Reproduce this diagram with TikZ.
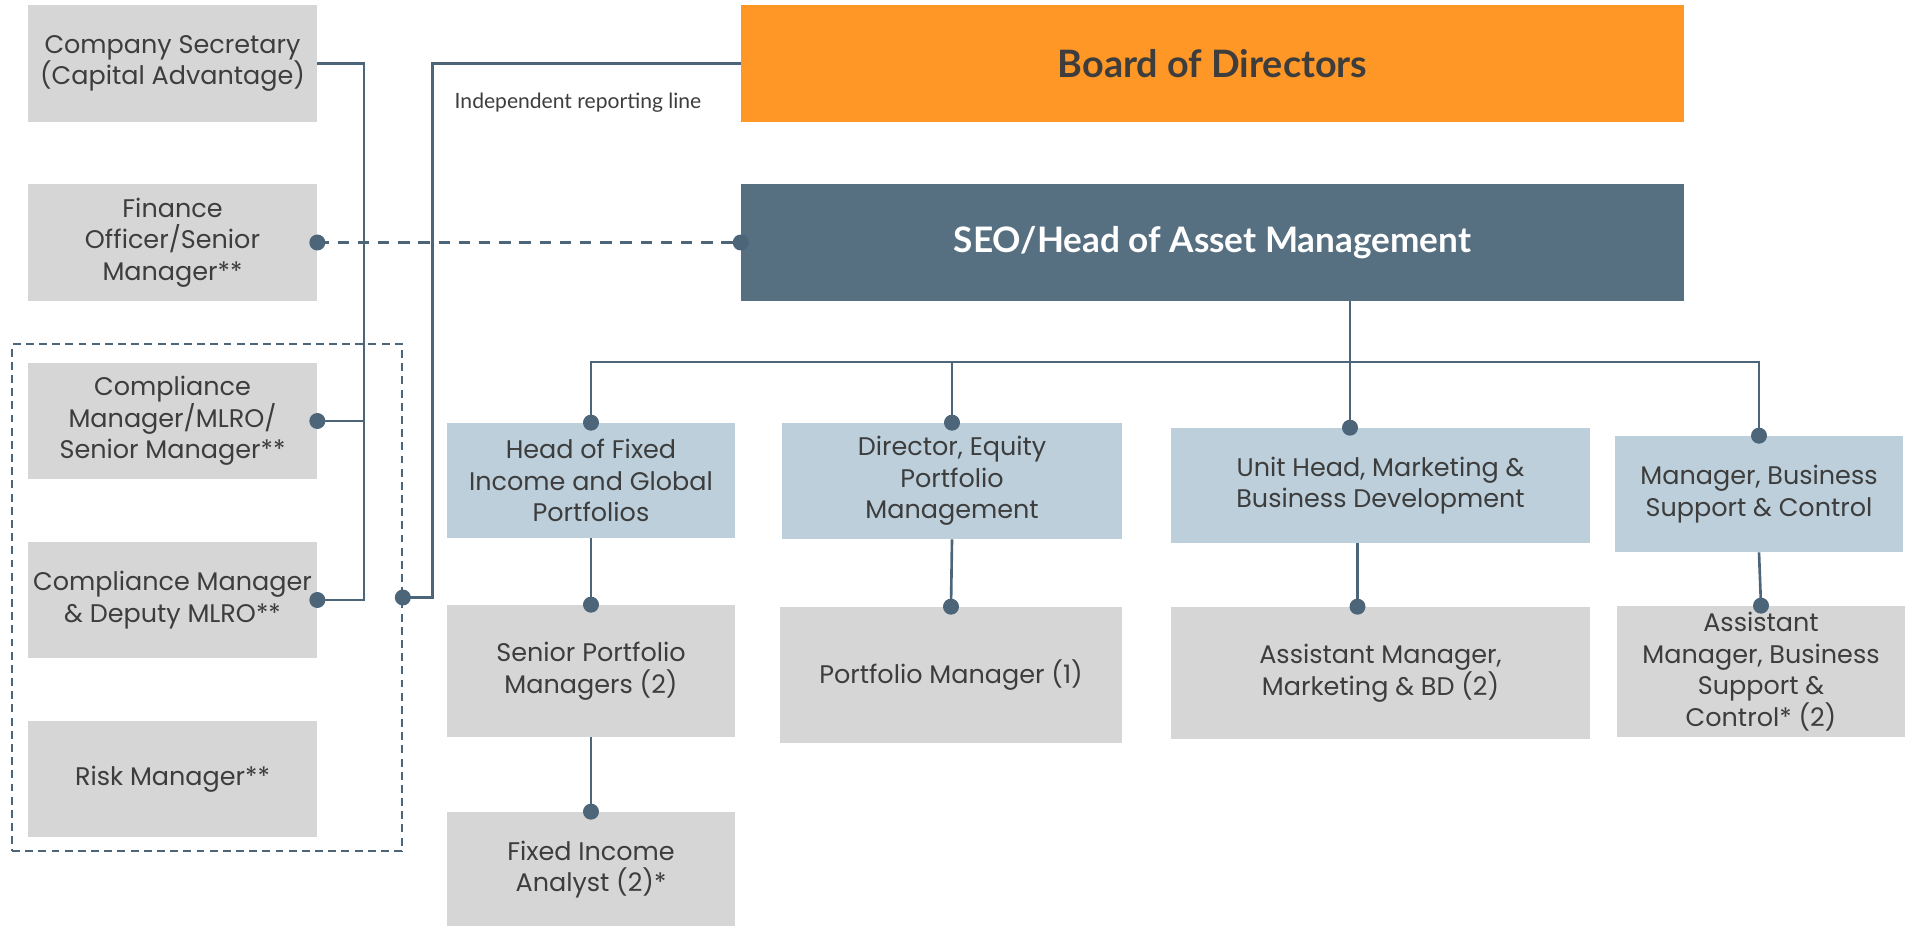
\documentclass[tikz,border=0pt]{standalone}
\usepackage{fontspec}
\setmainfont{Lato}
\newfontfamily\boxfont{Poppins}
\usepackage{tikz}

\definecolor{boardorange}{HTML}{FF9727}
\definecolor{seoslate}{HTML}{567082}
\definecolor{linkblue}{HTML}{4D6579}
\definecolor{headblue}{HTML}{BCCFDB}
\definecolor{staffgrey}{HTML}{D6D6D6}
\definecolor{textgrey}{HTML}{3D3D3D}

\tikzset{
  staff/.style={rectangle,fill=staffgrey,text=textgrey,align=center,inner sep=0pt,
    font=\boxfont\fontsize{14.5}{18}\selectfont},
  head/.style={staff,fill=headblue},
  topbox/.style={rectangle,align=center,inner sep=0pt,minimum width=18.86cm,minimum height=2.34cm,
    font=\fontsize{20}{24}\selectfont\bfseries},
  link/.style={draw=linkblue,line width=1.5pt},
  dashlink/.style={draw=linkblue,line width=1.5pt,dash pattern=on 6.5pt off 5pt},
  ccframe/.style={draw=linkblue,line width=1pt,dash pattern=on 4.5pt off 3pt},
}

\begin{document}
\begin{tikzpicture}[x=0.02cm,y=-0.02cm]
\useasboundingbox (0,0) rectangle (1911,926);

%top
\node [topbox,fill=boardorange,text=textgrey,font=\fontsize{21.5}{24}\selectfont\bfseries] (board) at(1212.5,63.5){Board of Directors};
\node [topbox,fill=seoslate,text=white] (seo) at(1212.5,242.5){SEO/Head of Asset Management};

%left column
\node [staff,minimum width=5.78cm,minimum height=2.34cm] (cosec) at(172.5,63.5){Company Secretary\\(Capital Advantage)};
\node [staff,minimum width=5.78cm,minimum height=2.34cm] (fin) at(172.5,242.5){Finance\\Officer/Senior\\Manager**};
\node [staff,minimum width=5.78cm,minimum height=2.32cm] (cmlro) at(172.5,421){Compliance\\Manager/MLRO/\\Senior Manager**};
\node [staff,minimum width=5.78cm,minimum height=2.32cm] (cdep) at(172.5,600){Compliance Manager\\\& Deputy MLRO**};
\node [staff,minimum width=5.78cm,minimum height=2.32cm] (risk) at(172.5,779){Risk Manager**};
\node [ccframe,minimum width=7.8cm,minimum height=10.14cm] (ccbox) at(207,597.5){};

\node [text=textgrey,font=\fontsize{12}{14}\selectfont] (indep) at(578,103){Independent reporting line};

%heads
\node [head,minimum width=5.76cm,minimum height=2.3cm] (hfi) at(591,480.5){Head of Fixed\\Income and Global\\Portfolios};
\node [head,minimum width=6.8cm,minimum height=2.32cm] (deq) at(952,481){Director, Equity\\Portfolio\\Management};
\node [head,minimum width=8.38cm,minimum height=2.3cm] (unit) at(1380.5,485.5){Unit Head, Marketing \&\\Business Development};
\node [head,minimum width=5.76cm,minimum height=2.32cm] (mbs) at(1759,494){Manager, Business\\Support \& Control};

%staff
\node [staff,minimum width=5.76cm,minimum height=2.64cm] (spm) at(591,671){Senior Portfolio\\Managers (2)};
\node [staff,minimum width=6.84cm,minimum height=2.72cm] (pm) at(951,675){Portfolio Manager (1)};
\node [staff,minimum width=8.38cm,minimum height=2.64cm] (amm) at(1380.5,673){Assistant Manager,\\Marketing \& BD (2)};
\node [staff,minimum width=5.76cm,minimum height=2.62cm] (abs) at(1761,671.5){Assistant\\Manager, Business\\Support \&\\Control* (2)};
\node [staff,minimum width=5.76cm,minimum height=2.3cm] (fia) at(591,869.5){Fixed Income\\Analyst (2)*};

\coordinate (hub) at(1350,362);

%reporting lines
\draw[link](cosec.east) -- ++(46.5,0) |- (cdep.east);
\draw[link](cmlro.east) -- ++(46.5,0);
\draw[link](board.west) -- ++(-308,0) |- (ccbox.east);
\draw[dashlink](fin.east) -- (seo.west);

\draw[link](hub |- seo.south) -- (hub |- unit.north);
\draw[link](hfi.north) |- (hub) -| (mbs.north);
\draw[link](hub -| deq.north) -- (deq.north);

\draw[link](hfi.south) -- (spm.north);
\draw[link](deq.south) -- (pm.north);
\draw[link]([xshift=-0.46cm]unit.south) -- ([xshift=-0.46cm]amm.north);
\draw[link](mbs.south) -- (abs.north);
\draw[link](spm.south) -- (fia.north);

%dots
\foreach \d in {cmlro.east,cdep.east,fin.east,seo.west,ccbox.east,hfi.north,deq.north,mbs.north,spm.north,pm.north,abs.north,fia.north}
  \fill[linkblue] (\d) circle (0.16cm);
\fill[linkblue] (hub |- unit.north) circle (0.16cm);
\fill[linkblue] ([xshift=-0.46cm]amm.north) circle (0.16cm);

\end{tikzpicture}
\end{document}
